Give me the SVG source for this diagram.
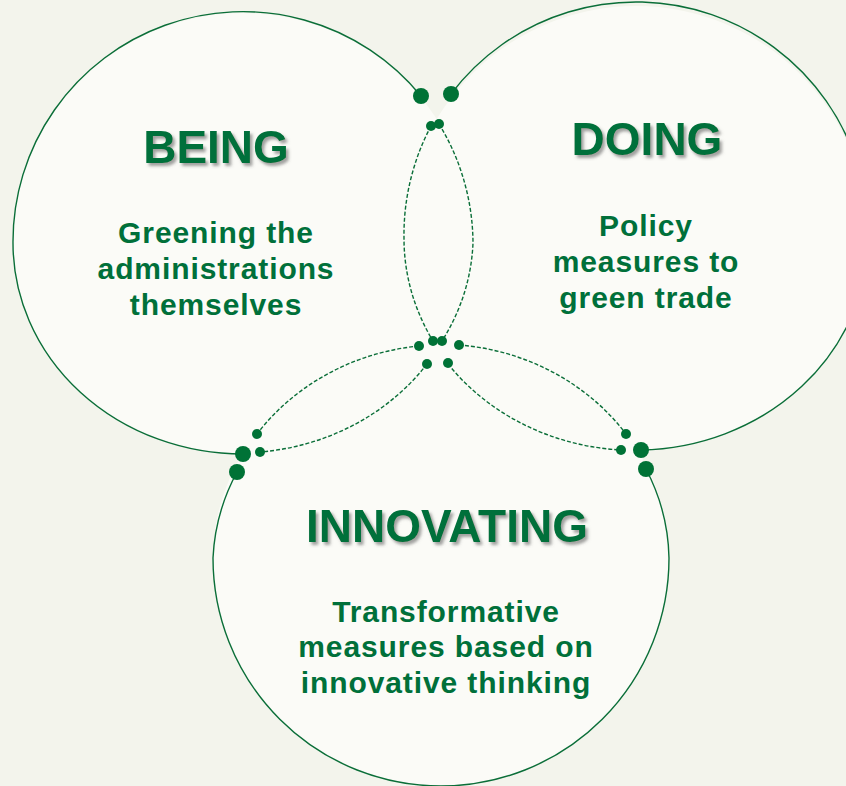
<svg xmlns="http://www.w3.org/2000/svg" width="846" height="786" viewBox="0 0 846 786">
<defs>
<style>
.bg{fill:#f3f4ec}
.fillc{fill:#fbfbf7;stroke:none}
.solid{fill:none;stroke:#0a6e38;stroke-width:1.4}
.dash{fill:none;stroke:#0a6e38;stroke-width:1.4;stroke-dasharray:4 2}
.dot{fill:#007236}
.title{font-family:"Liberation Sans",Arial,sans-serif;font-weight:bold;font-size:46px;fill:#00703a;text-anchor:middle;filter:url(#sh)}
.sub{font-family:"Liberation Sans",Arial,sans-serif;font-weight:bold;font-size:30px;letter-spacing:0.9px;fill:#00703a;text-anchor:middle}
</style>
<filter id="sh" x="-10%" y="-20%" width="130%" height="160%">
<feDropShadow dx="2.5" dy="3" stdDeviation="1.5" flood-color="#555" flood-opacity="0.55"/>
</filter>
</defs>
<rect class="bg" x="0" y="0" width="846" height="786"/>
<g id="fills">
<path class="fillc" d="M 13 243 A 230 230 0 0 1 473 243 A 230 211 0 0 1 13 243 Z"/>
<path class="fillc" d="M 404 238 A 232 232 0 0 1 868 238 A 232 212 0 0 1 404 238 Z"/>
<path class="fillc" d="M 213 558 A 228 212 0 0 1 669 558 A 228 228 0 0 1 213 558 Z"/>
</g>
<g id="connectors">
<path class="solid" d="M 243 454 A 230 211 0 0 1 13 243 A 230 230 0 0 1 421 96"/>
<path class="dash" d="M 439 124 A 230 230 0 0 1 473 243 A 230 211 0 0 1 442 341"/>
<path class="dash" d="M 427 364 A 230 211 0 0 1 260 452"/>
<path class="solid" d="M 451 94 A 232 232 0 0 1 868 238 A 232 212 0 0 1 641 450"/>
<path class="dash" d="M 431 126 A 232 232 0 0 0 404 238 A 232 212 0 0 0 433 341"/>
<path class="dash" d="M 448 364 A 232 212 0 0 0 621 450"/>
<path class="solid" d="M 237 472 A 228 212 0 0 0 213 558 A 228 228 0 0 0 669 558 A 228 212 0 0 0 646 469"/>
<path class="dash" d="M 419 346 A 228 212 0 0 0 257 434"/>
<path class="dash" d="M 459 345 A 228 212 0 0 1 626 434"/>
</g>
<g id="dots">
<circle class="dot" cx="421" cy="96" r="8"/>
<circle class="dot" cx="451" cy="94" r="8"/>
<circle class="dot" cx="243" cy="454" r="8"/>
<circle class="dot" cx="237" cy="472" r="8"/>
<circle class="dot" cx="641" cy="450" r="8"/>
<circle class="dot" cx="646" cy="469" r="8"/>
<circle class="dot" cx="431" cy="126" r="5"/>
<circle class="dot" cx="439" cy="124" r="5"/>
<circle class="dot" cx="419" cy="346" r="5"/>
<circle class="dot" cx="433" cy="341" r="5"/>
<circle class="dot" cx="442" cy="341" r="5"/>
<circle class="dot" cx="459" cy="345" r="5"/>
<circle class="dot" cx="427" cy="364" r="5"/>
<circle class="dot" cx="448" cy="363" r="5"/>
<circle class="dot" cx="257" cy="434" r="5"/>
<circle class="dot" cx="260" cy="452" r="5"/>
<circle class="dot" cx="626" cy="434" r="5"/>
<circle class="dot" cx="621" cy="450" r="5"/>
</g>
<g id="node-being">
<text class="title" x="216" y="163">BEING</text>
<text class="sub" x="216" y="243">Greening the</text>
<text class="sub" x="216" y="279">administrations</text>
<text class="sub" x="216" y="315">themselves</text>
</g>
<g id="node-doing">
<text class="title" x="647" y="155">DOING</text>
<text class="sub" x="646" y="236">Policy</text>
<text class="sub" x="646" y="272">measures to</text>
<text class="sub" x="646" y="308">green trade</text>
</g>
<g id="node-innovating">
<text class="title" x="447" y="542">INNOVATING</text>
<text class="sub" x="446" y="622">Transformative</text>
<text class="sub" x="446" y="657">measures based on</text>
<text class="sub" x="446" y="693">innovative thinking</text>
</g>
</svg>
